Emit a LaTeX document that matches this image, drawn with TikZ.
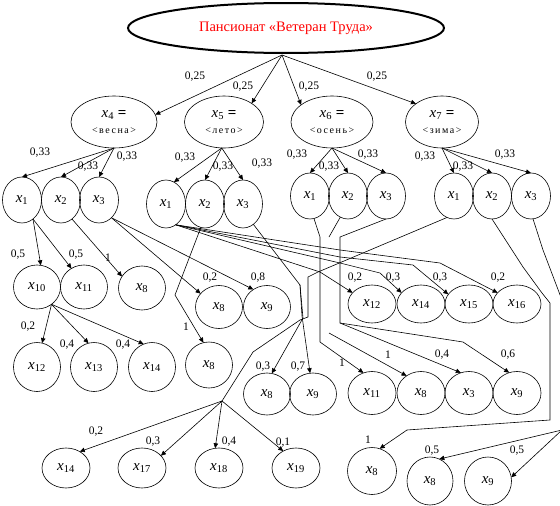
\documentclass[tikz,border=0pt]{standalone}
\usepackage{fontspec}
\setmainfont{Liberation Serif}
\usetikzlibrary{arrows.meta,shapes.geometric}
\newcommand{\xs}[1]{\textit{x}\textsubscript{#1}}
\newcommand{\szn}[2]{\xs{#1} \textbf{=}\\[-1pt]{\fontsize{10}{10}\selectfont\addfontfeature{LetterSpace=15}<#2>}}

\begin{document}
\begin{tikzpicture}[x=1pt,y=-1pt,
  every node/.style={inner sep=0pt,outer sep=0pt},
  oval/.style={draw,ellipse,line width=0.6pt,font=\fontsize{15}{15}\selectfont},
  kid/.style={oval,minimum width=39pt,minimum height=46pt},
  leaf/.style={oval,minimum width=47pt,minimum height=44pt},
  season/.style={draw,ellipse,line width=0.6pt,align=center,minimum height=52pt,
    font=\fontsize{15}{17}\selectfont},
  lbl/.style={font=\fontsize{11.5}{12}\selectfont},
  arr/.style={-{Triangle[length=5pt,width=4.5pt]},line width=0.6pt},
  ln/.style={line width=0.6pt}
]
\useasboundingbox (0,0) rectangle (560,506);
\clip (0,0) rectangle (560,506);

% root and seasons
\node[draw,ellipse,line width=2pt,minimum width=316pt,minimum height=50pt,
  text=red,font=\fontsize{14.5}{15}\selectfont] (top) at (286,28) {Пансионат «Ветеран Труда»};
\node[season,minimum width=86pt] (s4) at (114,122) {\szn{4}{весна}};
\node[season,minimum width=79pt] (s5) at (224,122) {\szn{5}{лето}};
\node[season,minimum width=82pt] (s6) at (332,122) {\szn{6}{осень}};
\node[season,minimum width=73pt] (s7) at (442,122) {\szn{7}{зима}};

% second level
\node[kid] (g1a) at (22,200) {\xs{1}};
\node[kid] (g1b) at (61,200) {\xs{2}};
\node[kid] (g1c) at (99,200) {\xs{3}};
\node[kid,minimum height=48pt] (g2a) at (166,204) {\xs{1}};
\node[kid,minimum height=48pt] (g2b) at (205,204) {\xs{2}};
\node[kid,minimum height=48pt] (g2c) at (243,204) {\xs{3}};
\node[kid] (g3a) at (310,196) {\xs{1}};
\node[kid] (g3b) at (348,196) {\xs{2}};
\node[kid] (g3c) at (386,196) {\xs{3}};
\node[kid] (g4a) at (454,196) {\xs{1}};
\node[kid] (g4b) at (492,196) {\xs{2}};
\node[kid] (g4c) at (531,196) {\xs{3}};

% outcomes
\node[leaf] (a10) at (37,287) {\xs{10}};
\node[leaf] (a11) at (84,287) {\xs{11}};
\node[leaf] (a8) at (142,288) {\xs{8}};
\node[leaf,minimum height=43pt] (b8) at (219,307) {\xs{8}};
\node[leaf,minimum height=43pt] (b9) at (267,307) {\xs{9}};
\node[leaf,minimum height=49pt] (c12) at (37,367) {\xs{12}};
\node[leaf,minimum height=49pt] (c13) at (94,367) {\xs{13}};
\node[leaf,minimum height=49pt] (c14) at (152,367) {\xs{14}};
\node[leaf,minimum height=46pt] (c8) at (209,365) {\xs{8}};
\node[leaf,minimum width=48pt,minimum height=38pt] (d12) at (372,304) {\xs{12}};
\node[leaf,minimum width=48pt,minimum height=38pt] (d14) at (421,304) {\xs{14}};
\node[leaf,minimum width=48pt,minimum height=38pt] (d15) at (469,304) {\xs{15}};
\node[leaf,minimum width=48pt,minimum height=38pt] (d16) at (517,304) {\xs{16}};
\node[leaf,minimum height=42pt] (e8) at (267,394) {\xs{8}};
\node[leaf,minimum height=42pt] (e9) at (313,394) {\xs{9}};
\node[leaf,minimum width=48pt,minimum height=43pt] (e11) at (372,393) {\xs{11}};
\node[leaf,minimum width=48pt,minimum height=43pt] (e8b) at (421,393) {\xs{8}};
\node[leaf,minimum width=48pt,minimum height=43pt] (e3) at (469,393) {\xs{3}};
\node[leaf,minimum width=48pt,minimum height=43pt] (e9b) at (517,393) {\xs{9}};
\node[leaf,minimum width=48pt,minimum height=40pt] (f14) at (66,468) {\xs{14}};
\node[leaf,minimum width=48pt,minimum height=40pt] (f17) at (142,468) {\xs{17}};
\node[leaf,minimum width=48pt,minimum height=40pt] (f18) at (219,468) {\xs{18}};
\node[leaf,minimum width=48pt,minimum height=40pt] (f19) at (296,468) {\xs{19}};
\node[leaf,minimum width=49pt,minimum height=47pt] (f8) at (372,471) {\xs{8}};
\node[leaf,minimum width=46pt,minimum height=48pt] (h8) at (430,481) {\xs{8}};
\node[leaf,minimum width=47pt,minimum height=48pt] (h9) at (488,481) {\xs{9}};

% junctions
\coordinate (apex) at (282,55);
\coordinate (j1) at (300,285);
\coordinate (j2) at (222,401);
\coordinate (j3) at (340,323);
\coordinate (j4) at (562,430);
\coordinate (stub) at (329,237);
\coordinate (free) at (329,333);

% root to seasons
\draw[arr] (apex) -- (s4.10);
\draw[arr] (apex) -- (s5.34);
\draw[arr] (apex) -- (s6.151);
\draw[arr] (apex) -- (s7.145);

% seasons to second level
\draw[arr] (s4.south) -- (g1a.north);
\draw[arr] (s4.south) -- (g1b.north);
\draw[arr] (s4.south) -- (g1c.north);
\draw[arr] (s5.265) -- (g2a.70);
\draw[arr] (s5.265) -- (g2b.north);
\draw[arr] (s5.265) -- (g2c.north);
\draw[arr] (s6.south) -- (g3a.north);
\draw[arr] (s6.south) -- (g3b.north);
\draw[arr] (s6.south) -- (g3c.north);
\draw[arr] (s7.south) -- (g4a.north);
\draw[arr] (s7.south) -- (g4b.north);
\draw[arr] (s7.south) -- (g4c.north);

% spring
\draw[arr] (g1a.-60) -- (a10.80);
\draw[arr] (g1a.-60) -- (a11.124);
\draw[arr] (g1b.-60) -- (a8.150);
\draw[arr] (g1c.-55) -- (b8.144);
\draw[arr] (g1c.-55) -- (b9.128);
\draw[arr] (a10.-50) -- (c12.78);
\draw[arr] (a10.-50) -- (c13.103);
\draw[arr] (a10.-50) -- (c14.110);

% summer
\draw[arr] (g2a.-65) -- (320,272) -- (d12.150);
\draw[arr] (g2a.-65) -- (340,263) -- (380,273) -- (d14.150);
\draw[arr] (g2a.-65) -- (340,257) -- (413,265) -- (d15.155);
\draw[arr] (g2a.-65) -- (340,250) -- (440,263) -- (d16.150);
\draw[arr] (g2b.-100) -- (175,295) -- (c8.104);
\draw[ln] (g2c.-63) -- (j1);
\draw[arr] (j1) -- (302,316) -- (e9.98);
\draw[arr] (j1) -- (303,318) -- (e8.77);

% autumn
\draw[arr] (g3a.-80) -- (320,237) -- (320,342) -- (e11.113);
\draw[ln] (g3b.-110) -- (stub);
\draw[arr] (free) -- (e8b.130);
\draw[ln] (g3c.south) -- (340,237) -- (j3);
\draw[arr] (j3) -- (e3.112);
\draw[arr] (j3) -- (463,342) -- (e9b.111);

% winter
\draw[ln] (g4a.-108) -- (318,272) -- (308,277) -- (308,317) -- (300,320) -- (253,352) -- (j2);
\draw[arr] (j2) -- (f14.50);
\draw[arr] (j2) -- (f17.33);
\draw[arr] (j2) -- (f18.101);
\draw[arr] (j2) -- (f19.127);
\draw[arr] (g4b.south) -- (523,267) -- (542,293) -- (550,303) -- (550,420) -- (407,430) -- (f8.71);
\draw[ln] (g4c.-85) -- (543,250) -- (562,300) -- (j4);
\draw[arr] (j4) -- (h8.67);
\draw[arr] (j4) -- (h9.9);

% probabilities
\foreach \px/\py/\t [count=\i] in {
  195/77/{0,25}, 243/87/{0,25}, 309/87/{0,25}, 377/77/{0,25},
  40/153/{0,33}, 88/167/{0,33}, 127/157/{0,33},
  185/158/{0,33}, 223/167/{0,33}, 262/164/{0,33},
  297/155/{0,33}, 329/167/{0,33}, 368/155/{0,33},
  425/157/{0,33}, 463/167/{0,33}, 505/155/{0,33},
  18/255/{0,5}, 76/255/{0,5}, 108/258/1,
  210/278/{0,2}, 258/278/{0,8},
  28/327/{0,2}, 67/345/{0,4}, 123/345/{0,4}, 186/327/1,
  355/278/{0,2}, 393/278/{0,3}, 440/278/{0,3}, 498/278/{0,2},
  263/367/{0,3}, 298/367/{0,7}, 342/363/1, 388/355/1, 442/355/{0,4}, 508/355/{0,6},
  96/432/{0,2}, 153/442/{0,3}, 229/442/{0,4}, 283/443/{0,1},
  368/440/1, 432/451/{0,5}, 517/451/{0,5}}
  \node[lbl] (p\i) at (\px,\py) {\t};
\end{tikzpicture}
\end{document}
